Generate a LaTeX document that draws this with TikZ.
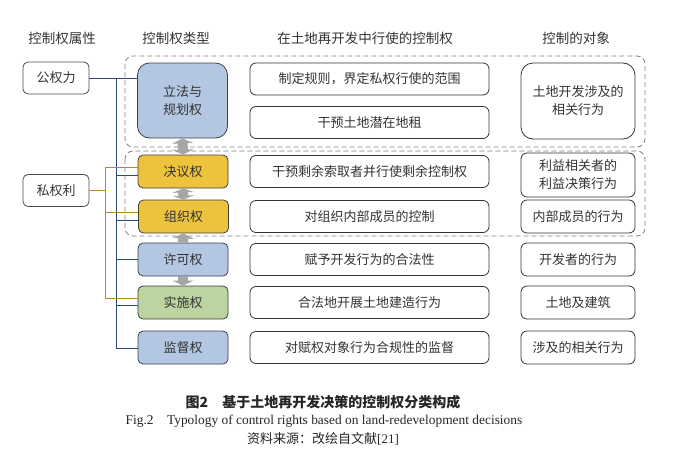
\documentclass[tikz,border=0pt]{standalone}
\usepackage{fontspec}
\setmainfont{Liberation Serif}
\newfontfamily\cjk{Noto Sans CJK SC}
\usetikzlibrary{arrows.meta}
\definecolor{boxblue}{HTML}{B3C7E3}
\definecolor{boxgold}{HTML}{EDC33E}
\definecolor{boxgreen}{HTML}{BBD4A0}
\definecolor{linenavy}{HTML}{2E4A78}
\definecolor{linegold}{HTML}{B58B1E}
\definecolor{txtgray}{HTML}{333333}
\definecolor{arrowgray}{HTML}{A6A6A6}
\tikzset{
  lbl/.style={text=txtgray, font=\cjk\fontsize{13}{18}\selectfont, align=center, inner sep=0pt},
  head/.style={lbl, font=\cjk\fontsize{13.5}{18}\selectfont},
  attrbox/.style={lbl, draw=black!70, line width=0.8pt, rounded corners=5pt, minimum width=66pt, minimum height=32pt},
  typebox/.style={lbl, draw=black!75, line width=0.8pt, rounded corners=5pt, minimum width=90pt, minimum height=33pt},
  rightbox/.style={lbl, draw=black!80, line width=0.8pt, rounded corners=6pt, minimum width=239pt, minimum height=32pt},
  objbox/.style={lbl, draw=black!80, line width=0.8pt, rounded corners=6pt, minimum width=114pt, minimum height=33pt},
  grp/.style={draw=black!50, line width=0.8pt, dash pattern=on 5pt off 3pt, rounded corners=8pt},
  publine/.style={draw=linenavy, line width=0.9pt},
  privline/.style={draw=linegold, line width=0.9pt},
  garrow/.style={draw=arrowgray, line width=10pt},
}
\begin{document}
\begin{tikzpicture}[x=1pt,y=-1pt]
    \useasboundingbox[fill=white] (0,0) rectangle (679,455);
    % column heads
    \node[head] (h1) at (62,38) {控制权属性};
    \node[head] (h2) at (176,38) {控制权类型};
    \node[head] (h3) at (365,38) {在土地再开发中行使的控制权};
    \node[head] (h4) at (576,38) {控制的对象};
    % dashed groups
    \draw[grp] (125,56) rectangle (645,147);
    \draw[grp] (125,151) rectangle (645,236);
    % attributes
    \node[attrbox] (gql) at (56,78) {公权力};
    \node[attrbox] (sql) at (56,190.5) {私权利};
    % types
    \node[typebox, fill=boxblue, minimum height=75pt, rounded corners=12pt] (lf) at (182.5,100.5) {立法与\\规划权};
    \node[typebox, fill=boxgold] (jy) at (183,171.5) {决议权};
    \node[typebox, fill=boxgold] (zz) at (183.5,216.5) {组织权};
    \node[typebox, fill=boxblue] (xk) at (183,259.5) {许可权};
    \node[typebox, fill=boxgreen] (ss) at (183,302.5) {实施权};
    \node[typebox, fill=boxblue] (jd) at (183,347.5) {监督权};
    % rights exercised
    \node[rightbox] (r1) at (369.5,79) {制定规则，界定私权行使的范围};
    \node[rightbox] (r2) at (369.5,122.5) {干预土地潜在地租};
    \node[rightbox] (r3) at (369.5,171.5) {干预剩余索取者并行使剩余控制权};
    \node[rightbox] (r4) at (369.5,216.5) {对组织内部成员的控制};
    \node[rightbox] (r5) at (369.5,259.5) {赋予开发行为的合法性};
    \node[rightbox] (r6) at (369.5,302.5) {合法地开展土地建造行为};
    \node[rightbox] (r7) at (369.5,347.5) {对赋权对象行为合规性的监督};
    % objects
    \node[objbox, minimum height=76pt, rounded corners=12pt] (o1) at (578,101) {土地开发涉及的\\相关行为};
    \node[objbox, minimum height=44pt] (o2) at (578,175) {利益相关者的\\利益决策行为};
    \node[objbox] (o3) at (578,216.5) {内部成员的行为};
    \node[objbox] (o4) at (578,259.5) {开发者的行为};
    \node[objbox] (o5) at (578,302.5) {土地及建筑};
    \node[objbox] (o6) at (578,347.5) {涉及的相关行为};
    % public power bus
    \coordinate (pb) at (116,78);
    \foreach \n/\d in {jy/4, zz/4, xk/0, ss/3, jd/1}{
        \coordinate (bt-\n) at ([yshift=-\d pt]\n.west);
        \draw[publine] (bt-\n -| pb) -- (bt-\n);
    }
    \draw[publine] (gql.east) -- (gql.east -| lf.west);
    \draw[publine] (gql.east -| pb) -- (bt-jd -| pb);
    % private right bus
    \coordinate (sb) at (105,190);
    \foreach \n in {jy, zz, ss}{
        \coordinate (gt-\n) at ([yshift=4pt]\n.west);
        \draw[privline] (gt-\n -| sb) -- (gt-\n);
    }
    \draw[privline] (sql.east) -- (sql.east -| sb);
    \draw[privline] (gt-jy -| sb) -- (gt-ss -| sb);
    % grey arrows
    \draw[garrow, {Triangle[width=21pt,length=5pt]}-{Triangle[width=21pt,length=5pt]}] (lf.south) -- (jy.north);
    \draw[garrow, {Triangle[width=21pt,length=4pt]}-{Triangle[width=21pt,length=4pt]}] (jy.south) -- (zz.north);
    \draw[garrow, -{Triangle[width=21pt,length=5pt]}] (xk.north) -- (zz.south);
    \draw[garrow, -{Triangle[width=21pt,length=5pt]}] (xk.south) -- (ss.north);
    % caption
    \node[lbl, font=\cjk\bfseries\fontsize{14}{18}\selectfont, text=black!85] (cap) at (323,402) {图2\quad 基于土地再开发决策的控制权分类构成};
    \node[lbl, font=\fontsize{13.4}{15}\selectfont, text=black!85] (capen) at (324,421) {Fig.2\quad Typology of control rights based on land-redevelopment decisions};
    \node[lbl, font=\fontsize{13}{15}\selectfont, text=black!85] (src) at (323,438.5) {{\cjk 资料来源：改绘自文献}[21]};
\end{tikzpicture}
\end{document}
